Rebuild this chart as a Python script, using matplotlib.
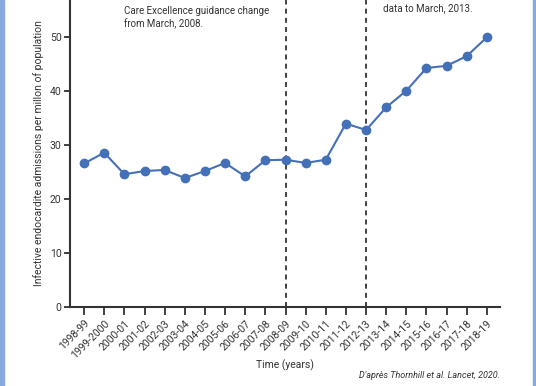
import matplotlib
matplotlib.use("Agg")
import matplotlib.pyplot as plt
from matplotlib.patches import Rectangle

years = ["1998-99", "1999-2000", "2000-01", "2001-02", "2002-03", "2003-04",
         "2004-05", "2005-06", "2006-07", "2007-08", "2008-09", "2009-10",
         "2010-11", "2011-12", "2012-13", "2013-14", "2014-15", "2015-16",
         "2016-17", "2017-18", "2018-19"]
admissions = [26.6, 28.6, 24.6, 25.2, 25.4, 23.9, 25.2, 26.7, 24.2, 27.2,
              27.3, 26.7, 27.3, 34.0, 32.8, 37.0, 40.1, 44.3, 44.7, 46.5, 50.0]
yticks = [0, 10, 20, 30, 40, 50]
vlines_at = ["2008-09", "2012-13"]

plt.rcParams['font.family'] = ['Roboto', 'DejaVu Sans']
txt = '#333333'
blue = '#4470b8'

fig = plt.figure(figsize=(5.36, 3.86), dpi=100)
fig.patch.set_facecolor('white')
ax = fig.add_axes([70/536, 79/386, 430/536, 307/386])
x = list(range(len(years)))
ax.plot(x, admissions, color=blue, lw=1.5, marker='o', ms=6, zorder=3)
for v in vlines_at:
    ax.axvline(years.index(v), color='#222222', lw=1.2, ls=(0, (3, 2.5)), zorder=2)

ax.set_xlim(-0.7, 20.65)
ax.set_ylim(0, 56.9)
ax.set_xticks(x)
ax.set_xticklabels(years, rotation=45, ha='right', rotation_mode='anchor',
                   fontsize=7.5, color=txt)
ax.set_yticks(yticks)
ax.set_yticklabels([str(t) for t in yticks], fontsize=7.5, color=txt)
ax.tick_params(axis='x', length=6, width=1.3, color='#333333', pad=2)
ax.tick_params(axis='y', length=4, width=1.3, color='#333333', pad=2)
for s in ['top', 'right']:
    ax.spines[s].set_visible(False)
for s in ['left', 'bottom']:
    ax.spines[s].set_linewidth(1.5)
    ax.spines[s].set_color('#333333')

ax.set_ylabel("Infective endocardite admissions per millon of population",
              fontsize=7.5, color=txt, labelpad=4)
fig.text(285/536, 1 - 365/386, "Time (years)", fontsize=7.5, color=txt,
         ha='center', va='center')
fig.text(500/536, 1 - 376/386, "D'après Thornhill et al. Lancet, 2020.",
         fontsize=6.5, color=txt, ha='right', va='center', style='italic')
fig.text(124/536, 1 - 18/386, "Care Excellence guidance change\nfrom March, 2008.",
         fontsize=7, color=txt, ha='left', va='center', linespacing=1.3)
fig.text(383/536, 1 - 8/386, "data to March, 2013.",
         fontsize=7, color=txt, ha='left', va='center')

fig.patches.append(Rectangle((0, 0), 3.5/536, 1, transform=fig.transFigure,
                             color='#86aadf', zorder=10))
fig.patches.append(Rectangle((533/536, 0), 3/536, 1, transform=fig.transFigure,
                             color='#86aadf', zorder=10))
fig.savefig("out.png", dpi=100, facecolor='white')
